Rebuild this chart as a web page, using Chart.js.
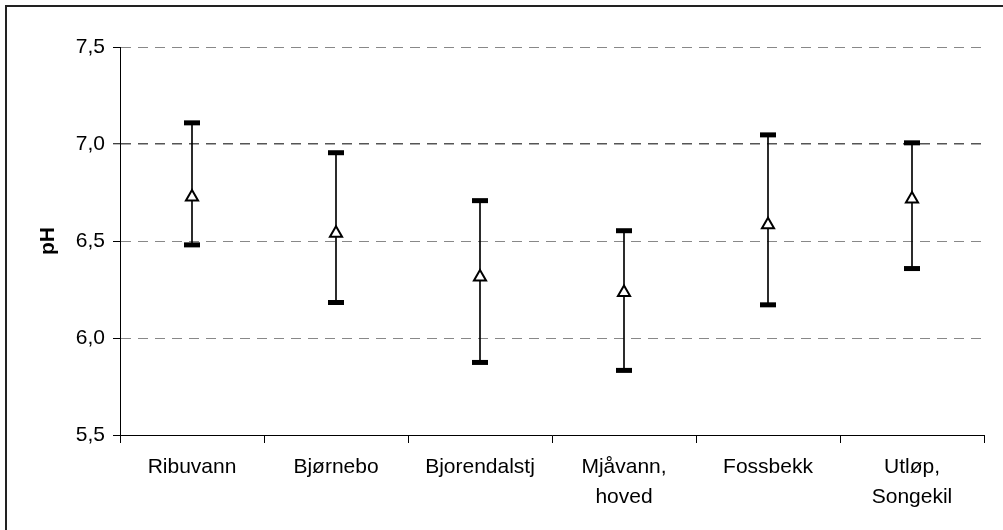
<!DOCTYPE html>
<html>
<head>
<meta charset="utf-8">
<title>pH</title>
<script src="https://cdn.jsdelivr.net/npm/chart.js@4/dist/chart.umd.min.js"></script>
<style>
  html, body { margin: 0; padding: 0; background: #fff; overflow: hidden; }
</style>
</head>
<body>
<canvas id="phChart" width="1003" height="530"></canvas>
<script>
// data lest av figuren
const stations = ['Ribuvann', 'Bjørnebo', 'Bjorendalstj', ['Mjåvann,', 'hoved'], 'Fossbekk', ['Utløp,', 'Songekil']];
const phMean = [6.727, 6.54, 6.315, 6.234, 6.584, 6.717];
const phMax = [7.109, 6.955, 6.708, 6.553, 7.047, 7.006];
const phMin = [6.48, 6.183, 5.874, 5.833, 6.171, 6.358];
const yTicks = [5.5, 6.0, 6.5, 7.0, 7.5];

Chart.defaults.font.family = "'Liberation Sans', Arial, sans-serif";
Chart.defaults.font.size = 21;
Chart.defaults.color = '#000';

// ramme rundt figuren (kun topp og venstre synlig)
const frame = {
  id: 'frame',
  beforeDraw(chart) {
    const c = chart.ctx;
    c.save();
    c.fillStyle = '#fff';
    c.fillRect(0, 0, chart.width, chart.height);
    c.strokeStyle = '#222';
    c.lineWidth = 2;
    c.beginPath();
    c.moveTo(6, chart.height);
    c.lineTo(6, 6);
    c.lineTo(chart.width, 6);
    c.stroke();
    c.restore();
  }
};

const ranges = phMin.map((v, i) => [v, phMax[i]]);

const ctx = document.getElementById('phChart').getContext('2d');
new Chart(ctx, {
  type: 'bar',
  data: {
    labels: stations,
    datasets: [
      {
        type: 'line',
        label: 'Middel',
        data: phMean,
        showLine: false,
        pointStyle: 'triangle',
        pointRadius: 7,
        pointHoverRadius: 7,
        pointBorderWidth: 2,
        pointBackgroundColor: '#fff',
        pointBorderColor: '#000',
        order: 0
      },
      {
        type: 'line',
        label: 'Maks',
        data: phMax,
        showLine: false,
        pointStyle: 'line',
        pointRadius: 8,
        pointBorderWidth: 5,
        pointBorderColor: '#000',
        order: 1
      },
      {
        type: 'line',
        label: 'Min',
        data: phMin,
        showLine: false,
        pointStyle: 'line',
        pointRadius: 8,
        pointBorderWidth: 5,
        pointBorderColor: '#000',
        order: 1
      },
      {
        type: 'bar',
        label: 'Spenn',
        data: ranges,
        backgroundColor: '#000',
        borderWidth: 0,
        barThickness: 1,
        order: 2
      }
    ]
  },
  options: {
    responsive: false,
    animation: false,
    layout: { padding: { top: 47, right: 19, bottom: 0, left: 0 } },
    plugins: {
      legend: { display: false },
      tooltip: { enabled: false }
    },
    scales: {
      x: {
        offset: true,
        grid: { offset: true, drawOnChartArea: false, tickLength: 8, tickColor: '#000', color: '#000' },
        border: { color: '#000', width: 1 },
        ticks: { padding: 9, maxRotation: 0, autoSkip: false, font: { size: 21, lineHeight: 1.45 } },
        afterFit: s => { s.height = 95; }
      },
      y: {
        min: 5.5,
        max: 7.5,
        afterBuildTicks: s => { s.ticks = yTicks.map(v => ({ value: v })); },
        grid: {
          color: c => (c.tick && c.tick.value === 7) ? '#555' : '#888',
          lineWidth: c => (c.tick && c.tick.value === 7) ? 1.5 : 1,
          tickColor: '#000',
          tickWidth: 1,
          tickLength: 7,
          tickBorderDash: []
        },
        border: { color: '#000', width: 1, dash: [10, 7] },
        ticks: {
          padding: 8,
          callback: v => v.toFixed(1).replace('.', ',')
        },
        title: {
          display: true,
          text: 'pH',
          font: { size: 21, weight: 'bold' },
          padding: { top: 36, bottom: 0 }
        },
        afterFit: s => { s.width = 120; }
      }
    }
  },
  plugins: [frame]
});
</script>
</body>
</html>
